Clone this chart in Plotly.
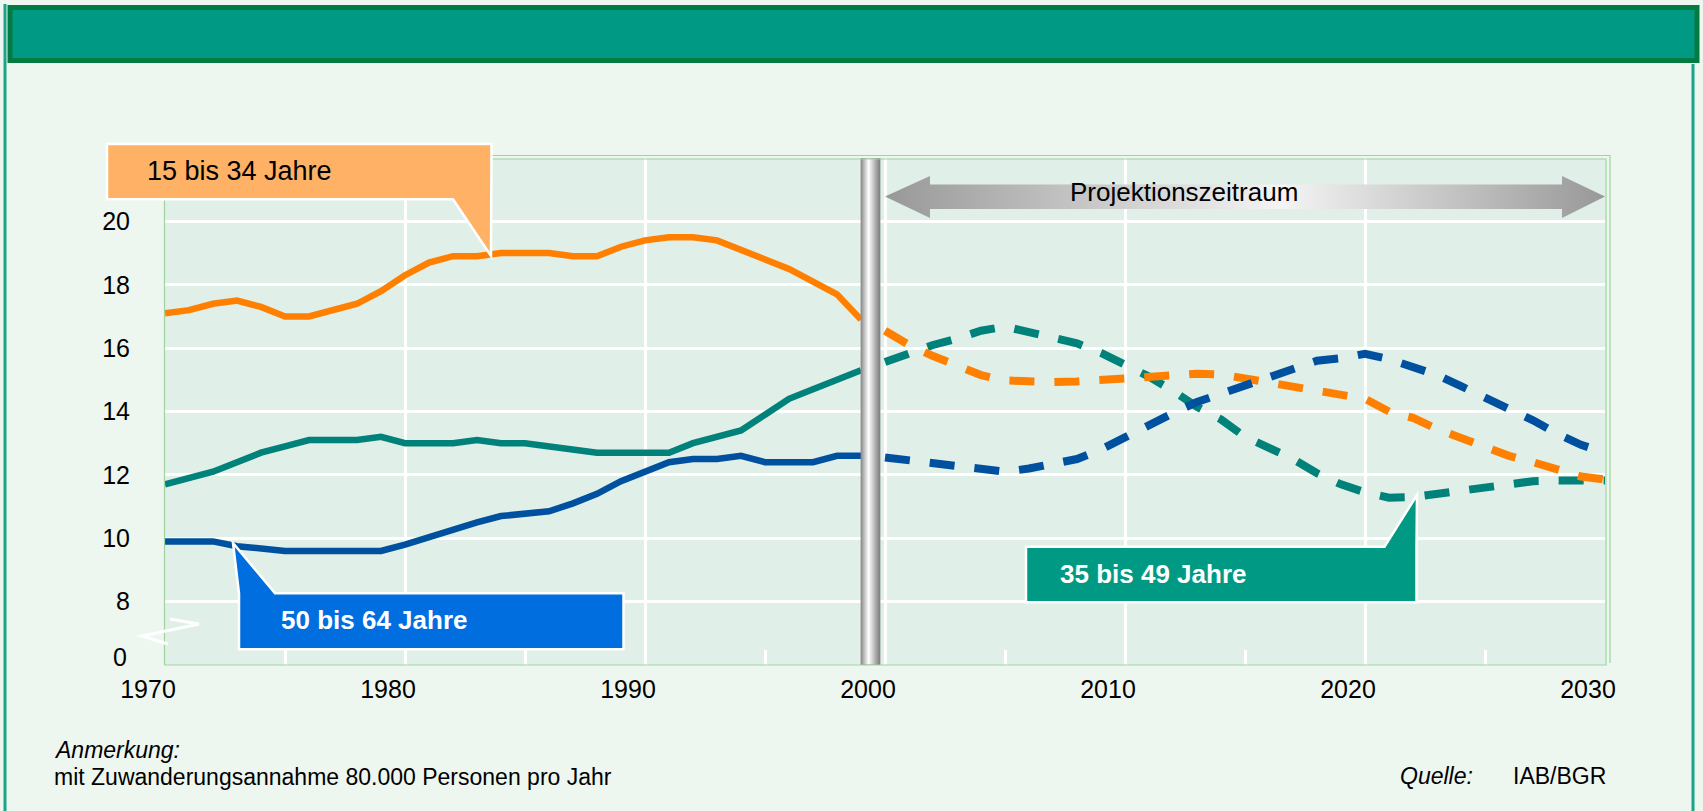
import plotly.graph_objects as go

# ---------------- data ----------------
years_hist = list(range(1970, 2000))
years_proj = list(range(2000, 2031))

age_15_34_hist = [17.1, 17.2, 17.4, 17.5, 17.3, 17.0, 17.0, 17.2, 17.4, 17.8,
                  18.3, 18.7, 18.9, 18.9, 19.0, 19.0, 19.0, 18.9, 18.9, 19.2,
                  19.4, 19.5, 19.5, 19.4, 19.1, 18.8, 18.5, 18.1, 17.7, 16.9]
age_35_49_hist = [11.7, 11.9, 12.1, 12.4, 12.7, 12.9, 13.1, 13.1, 13.1, 13.2,
                  13.0, 13.0, 13.0, 13.1, 13.0, 13.0, 12.9, 12.8, 12.7, 12.7,
                  12.7, 12.7, 13.0, 13.2, 13.4, 13.9, 14.4, 14.7, 15.0, 15.3]
age_50_64_hist = [9.9, 9.9, 9.9, 9.75, 9.65, 9.6, 9.6, 9.6, 9.6, 9.6,
                  9.8, 10.05, 10.3, 10.5, 10.7, 10.8, 10.85, 11.1, 11.4, 11.8,
                  12.1, 12.4, 12.5, 12.5, 12.6, 12.4, 12.4, 12.4, 12.6, 12.6]

age_15_34_proj = [16.55, 16.1, 15.75, 15.45, 15.15, 14.98, 14.93, 14.93, 14.95, 15.0,
                  15.05, 15.15, 15.19, 15.19, 15.17, 15.05, 14.9, 14.82, 14.66, 14.55,
                  14.4, 14.0, 13.8, 13.45, 13.15, 12.85, 12.6, 12.4, 12.15, 11.95, 11.85]
age_35_49_proj = [15.56, 15.85, 16.1, 16.3, 16.55, 16.68, 16.5, 16.35, 16.15, 15.85,
                  15.5, 15.1, 14.65, 14.15, 13.75, 13.2, 12.85, 12.5, 12.05, 11.7,
                  11.45, 11.28, 11.3, 11.4, 11.48, 11.58, 11.68, 11.8, 11.82, 11.82, 11.82]
age_50_64_proj = [12.55, 12.45, 12.4, 12.28, 12.15, 12.1, 12.2, 12.35, 12.5, 12.8,
                  13.2, 13.6, 13.95, 14.3, 14.55, 14.8, 15.05, 15.33, 15.6, 15.68,
                  15.82, 15.65, 15.42, 15.15, 14.8, 14.45, 14.05, 13.72, 13.3, 12.95, 12.7]

x_tick_years = [1970, 1980, 1990, 2000, 2010, 2020, 2030]
x_minor_years = [1975, 1985, 1995, 2005, 2015, 2025]
y_tick_vals = [8, 10, 12, 14, 16, 18, 20]
y_tick_text = ["8", "10", "12", "14", "16", "18", "20"]

label_15_34 = "15 bis 34 Jahre"
label_35_49 = "35 bis 49 Jahre"
label_50_64 = "50 bis 64 Jahre"

# ---------------- styling / geometry ----------------
ORANGE = "#FF8000"
TEAL = "#00817A"
BLUE = "#0050A0"
FONT = "Liberation Sans, Arial, sans-serif"

W, H = 1703, 811
ML, MR, MT, MB = 165, 98, 158, 146
PW, PH = W - ML - MR, H - MT - MB
X0, X1 = 1970, 2030
Y0, Y1 = 6, 22


def px(x):
    return (x - ML) / PW


def py(y):
    return (H - MB - y) / PH


def dx(x):
    return X0 + (x - ML) / PW * (X1 - X0)


def dy(y):
    return Y1 - (y - MT) / PH * (Y1 - Y0)


fig = go.Figure()

# historical solid lines
for vals, col, name in [(age_15_34_hist, ORANGE, label_15_34),
                        (age_35_49_hist, TEAL, label_35_49),
                        (age_50_64_hist, BLUE, label_50_64)]:
    fig.add_trace(go.Scatter(x=years_hist, y=vals, mode="lines", name=name,
                             line=dict(color=col, width=6.5), hoverinfo="skip"))

# projections dashed
for vals, col, name in [(age_35_49_proj, TEAL, label_35_49),
                        (age_15_34_proj, ORANGE, label_15_34),
                        (age_50_64_proj, BLUE, label_50_64)]:
    fig.add_trace(go.Scatter(x=years_proj, y=vals, mode="lines", name=name,
                             line=dict(color=col, width=8, dash="25px,20px"),
                             hoverinfo="skip"))

# gray separator bar (cylinder)
bx0, bx1 = dx(861), dx(880)
fig.add_trace(go.Scatter(x=[bx0, bx1, bx1, bx0, bx0], y=[Y0, Y0, Y1, Y1, Y0],
                         mode="lines", fill="toself", line=dict(width=0.8, color="#8a8a8a"),
                         fillgradient=dict(type="horizontal",
                                           colorscale=[[0, "#8c8c8c"], [0.4, "#ffffff"], [1, "#7a7a7a"]]),
                         hoverinfo="skip"))

# projection arrow
ax_l, ax_hl, ax_hr, ax_r = dx(885), dx(930), dx(1562), dx(1605)
ay_c, ay_st, ay_sb, ay_ht, ay_hb = dy(196.5), dy(184.5), dy(209), dy(176), dy(218)
fig.add_trace(go.Scatter(
    x=[ax_l, ax_hl, ax_hl, ax_hr, ax_hr, ax_r, ax_hr, ax_hr, ax_hl, ax_hl, ax_l],
    y=[ay_c, ay_ht, ay_st, ay_st, ay_ht, ay_c, ay_hb, ay_sb, ay_sb, ay_hb, ay_c],
    mode="lines", fill="toself", line=dict(width=0),
    fillgradient=dict(type="horizontal",
                      colorscale=[[0, "#989898"], [0.55, "#f4f4f4"], [1, "#989898"]]),
    hoverinfo="skip"))

shapes = []
# header
shapes.append(dict(type="rect", xref="paper", yref="paper",
                   x0=px(10), x1=px(1697), y0=py(60.5), y1=py(7.5),
                   fillcolor="#009A84", line=dict(color="#047A43", width=5), layer="above"))
# side borders
shapes.append(dict(type="line", xref="paper", yref="paper", x0=px(5), x1=px(5),
                   y0=py(4), y1=py(811), line=dict(color="#1BA38C", width=3)))
shapes.append(dict(type="line", xref="paper", yref="paper", x0=px(1693), x1=px(1693),
                   y0=py(64), y1=py(811), line=dict(color="#1BA38C", width=3)))
# plot frame
shapes.append(dict(type="rect", xref="paper", yref="paper", x0=px(164.5), x1=px(1606),
                   y0=py(665), y1=py(159), line=dict(color="#9FD39F", width=1.2), layer="above"))
shapes.append(dict(type="path", xref="paper", yref="paper",
                   path=f"M {px(168)},{py(155.5)} L {px(1610)},{py(155.5)} L {px(1610)},{py(663)}",
                   line=dict(color="#9FD39F", width=1.2), layer="above"))
# broken-axis zigzag
shapes.append(dict(type="path", xref="paper", yref="paper",
                   path=(f"M {px(170)},{py(619)} L {px(199)},{py(624)} "
                         f"L {px(142)},{py(636)} L {px(168)},{py(644)}"),
                   line=dict(color="white", width=3), layer="above"))
# callouts
orange_path = (f"M {px(107)},{py(144)} L {px(491.5)},{py(144)} L {px(491)},{py(256)} "
               f"L {px(453)},{py(199.3)} L {px(107)},{py(199.3)} Z")
shapes.append(dict(type="path", xref="paper", yref="paper", path=orange_path,
                   fillcolor="#FFB166", line=dict(color="white", width=2.5), layer="above"))
blue_path = (f"M {px(239)},{py(649.3)} L {px(239)},{py(593.3)} L {px(233)},{py(543)} "
             f"L {px(275)},{py(593.3)} L {px(623.5)},{py(593.3)} L {px(623.5)},{py(649.3)} Z")
shapes.append(dict(type="path", xref="paper", yref="paper", path=blue_path,
                   fillcolor="#006EDF", line=dict(color="white", width=2.5), layer="above"))
teal_path = (f"M {px(1026)},{py(546.7)} L {px(1384.5)},{py(546.7)} L {px(1417)},{py(495)} "
             f"L {px(1416.5)},{py(546.7)} L {px(1416.5)},{py(602.3)} L {px(1026)},{py(602.3)} Z")
shapes.append(dict(type="path", xref="paper", yref="paper", path=teal_path,
                   fillcolor="#009A84", line=dict(color="white", width=2.5), layer="above"))

annotations = [
    dict(text=label_15_34, x=px(145), y=py(171), xanchor="left", yanchor="middle",
         font=dict(size=27, color="black", family=FONT)),
    dict(text=f"<b>{label_50_64}</b>", x=px(279), y=py(620), xanchor="left", yanchor="middle",
         font=dict(size=26, color="white", family=FONT)),
    dict(text=f"<b>{label_35_49}</b>", x=px(1058), y=py(574), xanchor="left", yanchor="middle",
         font=dict(size=26, color="white", family=FONT)),
    dict(text="Projektionszeitraum", x=px(1184), y=py(192), xanchor="center", yanchor="middle",
         font=dict(size=26, color="black", family=FONT)),
    dict(text="0", x=px(129), y=py(657), xanchor="right", yanchor="middle",
         font=dict(size=25, color="black", family=FONT)),
    dict(text="<i>Anmerkung:</i>", x=px(52), y=py(750), xanchor="left", yanchor="middle",
         font=dict(size=23, color="black", family=FONT)),
    dict(text="mit Zuwanderungsannahme 80.000 Personen pro Jahr", x=px(52), y=py(777),
         xanchor="left", yanchor="middle", font=dict(size=23, color="black", family=FONT)),
    dict(text="<i>Quelle:</i>", x=px(1398), y=py(776), xanchor="left", yanchor="middle",
         font=dict(size=23, color="black", family=FONT)),
    dict(text="IAB/BGR", x=px(1511), y=py(776), xanchor="left", yanchor="middle",
         font=dict(size=23, color="black", family=FONT)),
]
for a in annotations:
    a.update(xref="paper", yref="paper", showarrow=False)

fig.update_layout(
    width=W, height=H,
    margin=dict(l=ML, r=MR, t=MT, b=MB, pad=0),
    paper_bgcolor="#EEF7EF",
    plot_bgcolor="#E0EFE7",
    showlegend=False,
    font=dict(family=FONT, color="black"),
    shapes=shapes,
    annotations=annotations,
    xaxis=dict(range=[X0, X1], tickvals=x_tick_years, showgrid=True, gridcolor="white",
               gridwidth=3, zeroline=False, showline=False, ticks="",
               tickfont=dict(size=25, color="black", family=FONT),
               ticklabelshift=-17, ticklabelstandoff=7,
               minor=dict(tickvals=x_minor_years, ticks="inside", ticklen=15,
                          tickwidth=3, tickcolor="white", showgrid=False),
               fixedrange=True),
    yaxis=dict(range=[Y0, Y1], tickvals=y_tick_vals, ticktext=y_tick_text, showgrid=True,
               gridcolor="white", gridwidth=3, zeroline=False, showline=False, ticks="",
               tickfont=dict(size=25, color="black", family=FONT),
               ticklabelstandoff=34, fixedrange=True),
)

fig.write_html("out.html", config={"displayModeBar": False},
               post_script="document.body.style.margin='0';document.body.style.overflow='hidden';")
